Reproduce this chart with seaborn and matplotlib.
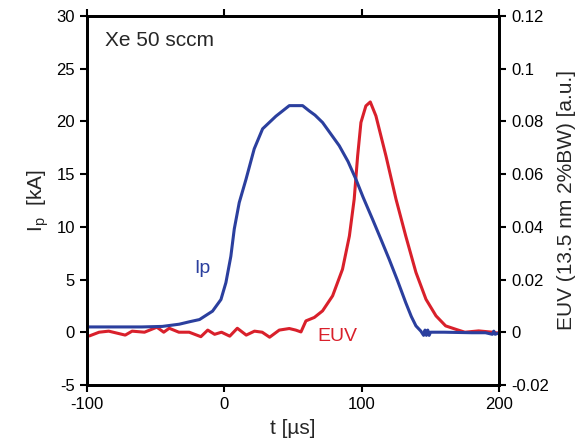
import numpy as np
import pandas as pd
import matplotlib
matplotlib.use("Agg")
import matplotlib.pyplot as plt
import seaborn as sns
from matplotlib.ticker import FuncFormatter

# ===== data =====
t_ip = [-100, -80, -60, -45, -32.7, -25, -18, -8.5, -2.4, 1.2, 4.8, 7.3, 10.9, 15.8,
        21.8, 27.9, 37.6, 47.3, 57, 61.8, 66, 71.5, 77, 83.6, 90, 95.8, 101, 107.9,
        114, 120, 126, 132, 136, 139.4, 143, 145, 146, 147, 148, 149, 150, 160, 180,
        190, 195, 196, 197, 200]
ip_kA = [0.5, 0.5, 0.5, 0.55, 0.76, 1.0, 1.2, 2.0, 3.1, 4.7, 7.2, 9.8, 12.3, 14.5,
         17.4, 19.3, 20.5, 21.5, 21.5, 21.0, 20.6, 19.9, 18.9, 17.7, 16.2, 14.5, 12.8, 10.7,
         8.8, 6.9, 4.9, 2.8, 1.5, 0.6, 0.1, -0.3, 0.2, -0.3, 0.2, -0.3, 0.0, 0.0, -0.05,
         -0.05, -0.2, 0.1, -0.2, -0.05]

t_euv = [-98, -91, -84, -72, -67, -58, -49, -44, -40, -33, -25.5, -17, -12, -7, -2,
         4, 9.5, 16, 22, 27.6, 33, 40, 47.3, 52, 55.8, 59.4, 65.5, 71.5, 78.8, 86,
         91, 94.5, 97, 99.4, 103, 106.2, 110.3, 117.6, 124.9, 132, 139.4,
         146.7, 154, 161, 169, 175, 185, 195, 200]
euv = [-0.0014, 0.0, 0.0004, -0.0011, 0.0004, 0.0, 0.0019, 0.0, 0.0015, 0.0, 0.0,
       -0.0017, 0.0008, -0.0008, 0.0, -0.0015, 0.0015, -0.0011, 0.0004, 0.0,
       -0.0019, 0.0008, 0.0014, 0.0008, 0.0001, 0.0043, 0.0056, 0.0081, 0.0138, 0.0239,
       0.0365, 0.0505, 0.0669, 0.0796, 0.0859, 0.0874, 0.0821, 0.0669, 0.0505, 0.0365,
       0.0227, 0.0125, 0.0062, 0.0024, 0.001, 0.0, 0.0005, 0.0, -0.0004]

ip_df = pd.DataFrame({"t": t_ip, "Ip": ip_kA})
euv_df = pd.DataFrame({"t": t_euv, "EUV": euv})

blue = "#2b3f9e"
red = "#d9202b"

# ===== plot =====
sns.set_style("ticks")
plt.rcParams["font.family"] = ["Liberation Sans", "DejaVu Sans"]
plt.rcParams["axes.unicode_minus"] = False

fig = plt.figure(figsize=(5.86, 4.46), dpi=100)
ax = fig.add_axes([0.148, 0.137, 0.704, 0.827])
ax2 = ax.twinx()

sns.lineplot(data=ip_df, x="t", y="Ip", ax=ax, color=blue, lw=2.2)
sns.lineplot(data=euv_df, x="t", y="EUV", ax=ax2, color=red, lw=2.2)
ax.set_zorder(ax2.get_zorder() + 1)
ax.patch.set_visible(False)

ax.set_xlim(-100, 200)
ax.set_ylim(-5, 30)
ax2.set_ylim(-0.02, 0.12)
ax.set_xticks([-100, 0, 100, 200])
ax.set_yticks(range(-5, 31, 5))
ax2.set_yticks(np.arange(-0.02, 0.121, 0.02))
ax2.yaxis.set_major_formatter(FuncFormatter(lambda v, p: f"{round(v, 3):g}"))

for a in (ax, ax2):
    for s in a.spines.values():
        s.set_linewidth(2)
        s.set_color("black")
    a.tick_params(direction="out", width=1.5, length=5, labelsize=12, colors="black")
ax.tick_params(top=True, labeltop=False)

ax.set_xlabel("t [µs]", fontsize=15, labelpad=5)
ax.set_ylabel("I$_\\mathregular{p}$  [kA]", fontsize=15, labelpad=4)
ax2.set_ylabel("EUV (13.5 nm 2%BW) [a.u.]", fontsize=15, labelpad=6)

ax.text(0.045, 0.935, "Xe 50 sccm", transform=ax.transAxes, fontsize=15, va="center")
ax.text(-16, 6, "Ip", color=blue, fontsize=14, ha="center", va="center")
ax.text(82, -0.4, "EUV", color=red, fontsize=14, ha="center", va="center")

fig.savefig("out.png", dpi=100)
